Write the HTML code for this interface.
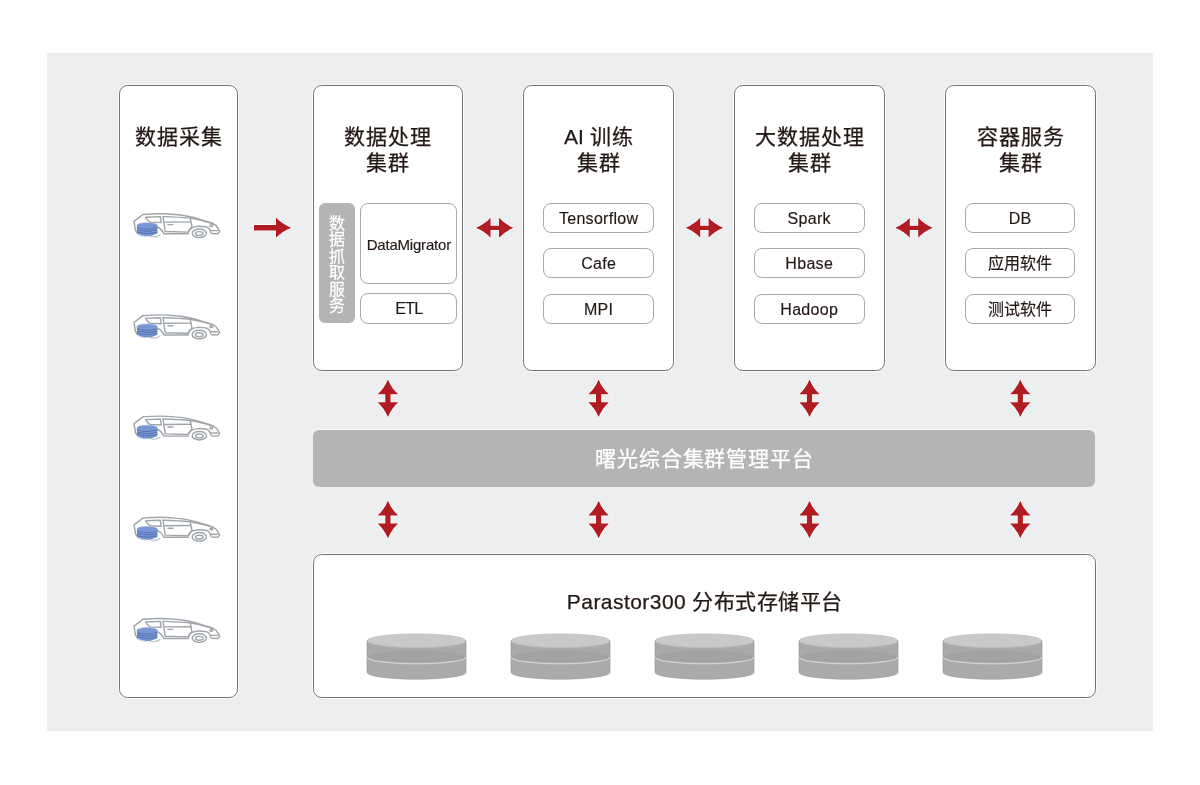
<!DOCTYPE html>
<html lang="zh-CN">
<head>
<meta charset="utf-8">
<style>
*{margin:0;padding:0;box-sizing:border-box}
html,body{width:1200px;height:785px;background:#fff;overflow:hidden}
body{position:relative;will-change:transform;font-family:"Liberation Sans",sans-serif;color:#231815}
.panel{position:absolute;left:47px;top:52.5px;width:1106px;height:678.5px;background:#edeef0}
.box{position:absolute;background:#fff;border:1.4px solid #777171;border-radius:8.5px;box-shadow:0 0 0 1px rgba(255,255,255,.75)}
.title{position:absolute;left:0;right:0;text-align:center;font-size:21px;line-height:26px;letter-spacing:1px;padding-left:1px;-webkit-text-stroke:0.25px #231815}
.item{position:absolute;background:#fff;border:1.4px solid #aaa8a8;border-radius:8px;text-align:center;font-size:16px;line-height:27px;padding-top:1px;letter-spacing:0.3px;-webkit-text-stroke:0.15px #231815}
.side{position:absolute;left:318.5px;top:202.7px;width:36.6px;height:120.5px;background:#b4b4b6;border-radius:6px;color:#fff;font-size:16px;line-height:16.5px;text-align:center;padding-top:13.3px;-webkit-text-stroke:0.25px #fff}
.bar{position:absolute;left:313px;top:430px;width:782px;height:56.5px;background:#b4b4b6;border-radius:6px;color:#fff;font-size:21px;letter-spacing:0.85px;padding-left:0.85px;-webkit-text-stroke:0.25px #fff;text-align:center;line-height:57.5px;box-shadow:0 -1px 0 0 rgba(255,255,255,.7)}
svg{position:absolute;overflow:visible}
</style>
</head>
<body>
<div class="panel"></div>

<!-- column 1 -->
<div class="box" style="left:118.5px;top:85px;width:119.5px;height:613px">
  <div class="title" style="top:37.6px">数据采集</div>
</div>

<!-- column 2 -->
<div class="box" style="left:312.6px;top:85px;width:150.4px;height:285.5px">
  <div class="title" style="top:37.6px">数据处理<br>集群</div>
</div>
<div class="side">数<br>据<br>抓<br>取<br>服<br>务</div>
<div class="item" style="left:360.3px;top:202.7px;width:97px;height:81px;line-height:79px;font-size:15px;letter-spacing:-0.2px">DataMigrator</div>
<div class="item" style="left:360.3px;top:293px;width:97px;height:30.5px;letter-spacing:-0.7px">ETL</div>

<!-- column 3 -->
<div class="box" style="left:523.3px;top:85px;width:150.5px;height:285.5px">
  <div class="title" style="top:37.6px"><span style="letter-spacing:0.2px">AI </span>训练<br>集群</div>
</div>
<div class="item" style="left:543.3px;top:203.3px;width:110.7px;height:30px">Tensorflow</div>
<div class="item" style="left:543.3px;top:248.3px;width:110.7px;height:30px">Cafe</div>
<div class="item" style="left:543.3px;top:293.5px;width:110.7px;height:30px">MPI</div>

<!-- column 4 -->
<div class="box" style="left:734.05px;top:85px;width:150.65px;height:285.5px">
  <div class="title" style="top:37.6px">大数据处理<br>集群</div>
</div>
<div class="item" style="left:753.9px;top:203.3px;width:110.7px;height:30px">Spark</div>
<div class="item" style="left:753.9px;top:248.3px;width:110.7px;height:30px">Hbase</div>
<div class="item" style="left:753.9px;top:293.5px;width:110.7px;height:30px">Hadoop</div>

<!-- column 5 -->
<div class="box" style="left:945.1px;top:85px;width:150.5px;height:285.5px">
  <div class="title" style="top:37.6px">容器服务<br>集群</div>
</div>
<div class="item" style="left:964.8px;top:203.3px;width:110.7px;height:30px">DB</div>
<div class="item" style="left:964.8px;top:248.3px;width:110.7px;height:30px;letter-spacing:0">应用软件</div>
<div class="item" style="left:964.8px;top:293.5px;width:110.7px;height:30px;letter-spacing:0">测试软件</div>

<!-- platform bar -->
<div class="bar">曙光综合集群管理平台</div>

<!-- storage -->
<div class="box" style="left:312.5px;top:553.5px;width:783.5px;height:144.5px">
  <div class="title" style="top:34.5px;font-size:21px;letter-spacing:0.45px">Parastor300 分布式存储平台</div>
</div>

<svg style="position:absolute;left:0;top:0" width="1200" height="785">
<path d="M254,224.9 L276,224.9 L276,217.6 Q282,224.2 291.2,227.7 Q282,231.3 276,237.8 L276,230.5 L254,230.5 Z" fill="#b01c22" stroke="#fff" stroke-width="1.4" paint-order="stroke" stroke-linejoin="round"/>
<path transform="translate(494.75 227.85)" d="M-18.75,0 Q-10,-3.6 -4.2,-10 L-4.2,-2.2 L4.2,-2.2 L4.2,-10 Q10,-3.6 18.75,0 Q10,3.6 4.2,10 L4.2,2.2 L-4.2,2.2 L-4.2,10 Q-10,3.6 -18.75,0 Z" fill="#b01c22" stroke="#fff" stroke-width="1.4" paint-order="stroke" stroke-linejoin="round"/>
<path transform="translate(704.4 227.85)" d="M-18.75,0 Q-10,-3.6 -4.2,-10 L-4.2,-2.2 L4.2,-2.2 L4.2,-10 Q10,-3.6 18.75,0 Q10,3.6 4.2,10 L4.2,2.2 L-4.2,2.2 L-4.2,10 Q-10,3.6 -18.75,0 Z" fill="#b01c22" stroke="#fff" stroke-width="1.4" paint-order="stroke" stroke-linejoin="round"/>
<path transform="translate(914 227.85)" d="M-18.75,0 Q-10,-3.6 -4.2,-10 L-4.2,-2.2 L4.2,-2.2 L4.2,-10 Q10,-3.6 18.75,0 Q10,3.6 4.2,10 L4.2,2.2 L-4.2,2.2 L-4.2,10 Q-10,3.6 -18.75,0 Z" fill="#b01c22" stroke="#fff" stroke-width="1.4" paint-order="stroke" stroke-linejoin="round"/>
<path transform="translate(387.9 398.25)" d="M0,-18.85 Q3.6,-10 10.3,-4.05 L2.6,-4.05 L2.6,3.95 L10.3,3.95 Q3.6,10 0,18.85 Q-3.6,10 -10.3,3.95 L-2.6,3.95 L-2.6,-4.05 L-10.3,-4.05 Q-3.6,-10 0,-18.85 Z" fill="#b01c22" stroke="#fff" stroke-width="1.4" paint-order="stroke" stroke-linejoin="round"/>
<path transform="translate(387.9 519.5)" d="M0,-18.85 Q3.6,-10 10.3,-4.05 L2.6,-4.05 L2.6,3.95 L10.3,3.95 Q3.6,10 0,18.85 Q-3.6,10 -10.3,3.95 L-2.6,3.95 L-2.6,-4.05 L-10.3,-4.05 Q-3.6,-10 0,-18.85 Z" fill="#b01c22" stroke="#fff" stroke-width="1.4" paint-order="stroke" stroke-linejoin="round"/>
<path transform="translate(598.6 398.25)" d="M0,-18.85 Q3.6,-10 10.3,-4.05 L2.6,-4.05 L2.6,3.95 L10.3,3.95 Q3.6,10 0,18.85 Q-3.6,10 -10.3,3.95 L-2.6,3.95 L-2.6,-4.05 L-10.3,-4.05 Q-3.6,-10 0,-18.85 Z" fill="#b01c22" stroke="#fff" stroke-width="1.4" paint-order="stroke" stroke-linejoin="round"/>
<path transform="translate(598.6 519.5)" d="M0,-18.85 Q3.6,-10 10.3,-4.05 L2.6,-4.05 L2.6,3.95 L10.3,3.95 Q3.6,10 0,18.85 Q-3.6,10 -10.3,3.95 L-2.6,3.95 L-2.6,-4.05 L-10.3,-4.05 Q-3.6,-10 0,-18.85 Z" fill="#b01c22" stroke="#fff" stroke-width="1.4" paint-order="stroke" stroke-linejoin="round"/>
<path transform="translate(809.5 398.25)" d="M0,-18.85 Q3.6,-10 10.3,-4.05 L2.6,-4.05 L2.6,3.95 L10.3,3.95 Q3.6,10 0,18.85 Q-3.6,10 -10.3,3.95 L-2.6,3.95 L-2.6,-4.05 L-10.3,-4.05 Q-3.6,-10 0,-18.85 Z" fill="#b01c22" stroke="#fff" stroke-width="1.4" paint-order="stroke" stroke-linejoin="round"/>
<path transform="translate(809.5 519.5)" d="M0,-18.85 Q3.6,-10 10.3,-4.05 L2.6,-4.05 L2.6,3.95 L10.3,3.95 Q3.6,10 0,18.85 Q-3.6,10 -10.3,3.95 L-2.6,3.95 L-2.6,-4.05 L-10.3,-4.05 Q-3.6,-10 0,-18.85 Z" fill="#b01c22" stroke="#fff" stroke-width="1.4" paint-order="stroke" stroke-linejoin="round"/>
<path transform="translate(1020.3 398.25)" d="M0,-18.85 Q3.6,-10 10.3,-4.05 L2.6,-4.05 L2.6,3.95 L10.3,3.95 Q3.6,10 0,18.85 Q-3.6,10 -10.3,3.95 L-2.6,3.95 L-2.6,-4.05 L-10.3,-4.05 Q-3.6,-10 0,-18.85 Z" fill="#b01c22" stroke="#fff" stroke-width="1.4" paint-order="stroke" stroke-linejoin="round"/>
<path transform="translate(1020.3 519.5)" d="M0,-18.85 Q3.6,-10 10.3,-4.05 L2.6,-4.05 L2.6,3.95 L10.3,3.95 Q3.6,10 0,18.85 Q-3.6,10 -10.3,3.95 L-2.6,3.95 L-2.6,-4.05 L-10.3,-4.05 Q-3.6,-10 0,-18.85 Z" fill="#b01c22" stroke="#fff" stroke-width="1.4" paint-order="stroke" stroke-linejoin="round"/>
<g transform="translate(130 208.3)">
 <g fill="none" stroke="#a0a5aa" stroke-width="1.45" stroke-linejoin="round" stroke-linecap="round">
  <path d="M12.9,6.2 Q30,4.6 45,6.2 Q60,7.4 71.8,11.6 Q80,14 82.9,15.2 Q87,17 88.6,20.8 L89.6,23.2 L87.8,25.4 L81.6,25.2"/>
  <path d="M12.9,6.2 L4,13 L5.5,22 L7.2,24.5"/>
  <path d="M15.6,8.9 L30.3,8.3 L31.2,14.3 L20.1,13.8 Q17,12 15.6,8.9 Z"/>
  <path d="M33,8.3 L35.2,23.2 L58.4,23.8"/>
  <path d="M34.8,13.8 L60.6,13.6"/>
  <path d="M33,8.3 Q50,8.8 60.2,9.8 Q70,11.5 76.2,13.4 Q80,14.5 82.9,15.2"/>
  <path d="M60.2,9.8 L62,18.7 Q60,20 58.4,23.6"/>
  <path d="M58.4,23.6 Q60,18.5 68,17.9 Q77,17.8 78.9,20 Q80.5,22 80.7,24.1"/>
  <path d="M80.7,22.3 L87.4,22.3"/>
  <path d="M27.7,18.7 Q31.5,20.5 33.9,25.4 L45,25.4 L58.4,25.4"/>
  <ellipse cx="69.3" cy="25" rx="7.1" ry="4.3"/>
  <ellipse cx="69.3" cy="25.2" rx="3.8" ry="1.9"/>
  <ellipse cx="81.3" cy="17.2" rx="1.4" ry="0.9"/>
  <path d="M37.9,16.3 L42.8,16.3"/>
  <path d="M19,27.5 Q25,30 30,26.5" stroke="#c5c8cc"/>
 </g>
 <g>
  <path d="M6.9,17.2 L6.9,25.2 Q17.15,30.4 27.4,25.2 L27.4,17.2 Z" fill="#6384c3"/>
  <ellipse cx="17.15" cy="17.2" rx="10.25" ry="2.7" fill="#7997d4" stroke="#90abe0" stroke-width="0.5"/>
  <path d="M7.1,19.6 Q17.15,22.6 27.2,19.6" stroke="#4e6cad" stroke-width="0.7" fill="none"/>
  <path d="M7.1,20.5 Q17.15,23.5 27.2,20.5" stroke="#8eaade" stroke-width="0.6" fill="none"/>
  <path d="M7.1,21.8 Q17.15,24.8 27.2,21.8" stroke="#4e6cad" stroke-width="0.7" fill="none"/>
  <path d="M7.1,22.7 Q17.15,25.7 27.2,22.7" stroke="#8eaade" stroke-width="0.6" fill="none"/>
  <path d="M7.1,24 Q17.15,27 27.2,24" stroke="#4e6cad" stroke-width="0.7" fill="none"/>
  <path d="M7.1,24.9 Q17.15,27.9 27.2,24.9" stroke="#8eaade" stroke-width="0.6" fill="none"/>
  <path d="M7.5,26.2 Q12,28.3 17,28.4" stroke="#a8c2f0" stroke-width="0.7" fill="none"/>
 </g>
</g>
<g transform="translate(130 309.5)">
 <g fill="none" stroke="#a0a5aa" stroke-width="1.45" stroke-linejoin="round" stroke-linecap="round">
  <path d="M12.9,6.2 Q30,4.6 45,6.2 Q60,7.4 71.8,11.6 Q80,14 82.9,15.2 Q87,17 88.6,20.8 L89.6,23.2 L87.8,25.4 L81.6,25.2"/>
  <path d="M12.9,6.2 L4,13 L5.5,22 L7.2,24.5"/>
  <path d="M15.6,8.9 L30.3,8.3 L31.2,14.3 L20.1,13.8 Q17,12 15.6,8.9 Z"/>
  <path d="M33,8.3 L35.2,23.2 L58.4,23.8"/>
  <path d="M34.8,13.8 L60.6,13.6"/>
  <path d="M33,8.3 Q50,8.8 60.2,9.8 Q70,11.5 76.2,13.4 Q80,14.5 82.9,15.2"/>
  <path d="M60.2,9.8 L62,18.7 Q60,20 58.4,23.6"/>
  <path d="M58.4,23.6 Q60,18.5 68,17.9 Q77,17.8 78.9,20 Q80.5,22 80.7,24.1"/>
  <path d="M80.7,22.3 L87.4,22.3"/>
  <path d="M27.7,18.7 Q31.5,20.5 33.9,25.4 L45,25.4 L58.4,25.4"/>
  <ellipse cx="69.3" cy="25" rx="7.1" ry="4.3"/>
  <ellipse cx="69.3" cy="25.2" rx="3.8" ry="1.9"/>
  <ellipse cx="81.3" cy="17.2" rx="1.4" ry="0.9"/>
  <path d="M37.9,16.3 L42.8,16.3"/>
  <path d="M19,27.5 Q25,30 30,26.5" stroke="#c5c8cc"/>
 </g>
 <g>
  <path d="M6.9,17.2 L6.9,25.2 Q17.15,30.4 27.4,25.2 L27.4,17.2 Z" fill="#6384c3"/>
  <ellipse cx="17.15" cy="17.2" rx="10.25" ry="2.7" fill="#7997d4" stroke="#90abe0" stroke-width="0.5"/>
  <path d="M7.1,19.6 Q17.15,22.6 27.2,19.6" stroke="#4e6cad" stroke-width="0.7" fill="none"/>
  <path d="M7.1,20.5 Q17.15,23.5 27.2,20.5" stroke="#8eaade" stroke-width="0.6" fill="none"/>
  <path d="M7.1,21.8 Q17.15,24.8 27.2,21.8" stroke="#4e6cad" stroke-width="0.7" fill="none"/>
  <path d="M7.1,22.7 Q17.15,25.7 27.2,22.7" stroke="#8eaade" stroke-width="0.6" fill="none"/>
  <path d="M7.1,24 Q17.15,27 27.2,24" stroke="#4e6cad" stroke-width="0.7" fill="none"/>
  <path d="M7.1,24.9 Q17.15,27.9 27.2,24.9" stroke="#8eaade" stroke-width="0.6" fill="none"/>
  <path d="M7.5,26.2 Q12,28.3 17,28.4" stroke="#a8c2f0" stroke-width="0.7" fill="none"/>
 </g>
</g>
<g transform="translate(130 410.7)">
 <g fill="none" stroke="#a0a5aa" stroke-width="1.45" stroke-linejoin="round" stroke-linecap="round">
  <path d="M12.9,6.2 Q30,4.6 45,6.2 Q60,7.4 71.8,11.6 Q80,14 82.9,15.2 Q87,17 88.6,20.8 L89.6,23.2 L87.8,25.4 L81.6,25.2"/>
  <path d="M12.9,6.2 L4,13 L5.5,22 L7.2,24.5"/>
  <path d="M15.6,8.9 L30.3,8.3 L31.2,14.3 L20.1,13.8 Q17,12 15.6,8.9 Z"/>
  <path d="M33,8.3 L35.2,23.2 L58.4,23.8"/>
  <path d="M34.8,13.8 L60.6,13.6"/>
  <path d="M33,8.3 Q50,8.8 60.2,9.8 Q70,11.5 76.2,13.4 Q80,14.5 82.9,15.2"/>
  <path d="M60.2,9.8 L62,18.7 Q60,20 58.4,23.6"/>
  <path d="M58.4,23.6 Q60,18.5 68,17.9 Q77,17.8 78.9,20 Q80.5,22 80.7,24.1"/>
  <path d="M80.7,22.3 L87.4,22.3"/>
  <path d="M27.7,18.7 Q31.5,20.5 33.9,25.4 L45,25.4 L58.4,25.4"/>
  <ellipse cx="69.3" cy="25" rx="7.1" ry="4.3"/>
  <ellipse cx="69.3" cy="25.2" rx="3.8" ry="1.9"/>
  <ellipse cx="81.3" cy="17.2" rx="1.4" ry="0.9"/>
  <path d="M37.9,16.3 L42.8,16.3"/>
  <path d="M19,27.5 Q25,30 30,26.5" stroke="#c5c8cc"/>
 </g>
 <g>
  <path d="M6.9,17.2 L6.9,25.2 Q17.15,30.4 27.4,25.2 L27.4,17.2 Z" fill="#6384c3"/>
  <ellipse cx="17.15" cy="17.2" rx="10.25" ry="2.7" fill="#7997d4" stroke="#90abe0" stroke-width="0.5"/>
  <path d="M7.1,19.6 Q17.15,22.6 27.2,19.6" stroke="#4e6cad" stroke-width="0.7" fill="none"/>
  <path d="M7.1,20.5 Q17.15,23.5 27.2,20.5" stroke="#8eaade" stroke-width="0.6" fill="none"/>
  <path d="M7.1,21.8 Q17.15,24.8 27.2,21.8" stroke="#4e6cad" stroke-width="0.7" fill="none"/>
  <path d="M7.1,22.7 Q17.15,25.7 27.2,22.7" stroke="#8eaade" stroke-width="0.6" fill="none"/>
  <path d="M7.1,24 Q17.15,27 27.2,24" stroke="#4e6cad" stroke-width="0.7" fill="none"/>
  <path d="M7.1,24.9 Q17.15,27.9 27.2,24.9" stroke="#8eaade" stroke-width="0.6" fill="none"/>
  <path d="M7.5,26.2 Q12,28.3 17,28.4" stroke="#a8c2f0" stroke-width="0.7" fill="none"/>
 </g>
</g>
<g transform="translate(130 511.9)">
 <g fill="none" stroke="#a0a5aa" stroke-width="1.45" stroke-linejoin="round" stroke-linecap="round">
  <path d="M12.9,6.2 Q30,4.6 45,6.2 Q60,7.4 71.8,11.6 Q80,14 82.9,15.2 Q87,17 88.6,20.8 L89.6,23.2 L87.8,25.4 L81.6,25.2"/>
  <path d="M12.9,6.2 L4,13 L5.5,22 L7.2,24.5"/>
  <path d="M15.6,8.9 L30.3,8.3 L31.2,14.3 L20.1,13.8 Q17,12 15.6,8.9 Z"/>
  <path d="M33,8.3 L35.2,23.2 L58.4,23.8"/>
  <path d="M34.8,13.8 L60.6,13.6"/>
  <path d="M33,8.3 Q50,8.8 60.2,9.8 Q70,11.5 76.2,13.4 Q80,14.5 82.9,15.2"/>
  <path d="M60.2,9.8 L62,18.7 Q60,20 58.4,23.6"/>
  <path d="M58.4,23.6 Q60,18.5 68,17.9 Q77,17.8 78.9,20 Q80.5,22 80.7,24.1"/>
  <path d="M80.7,22.3 L87.4,22.3"/>
  <path d="M27.7,18.7 Q31.5,20.5 33.9,25.4 L45,25.4 L58.4,25.4"/>
  <ellipse cx="69.3" cy="25" rx="7.1" ry="4.3"/>
  <ellipse cx="69.3" cy="25.2" rx="3.8" ry="1.9"/>
  <ellipse cx="81.3" cy="17.2" rx="1.4" ry="0.9"/>
  <path d="M37.9,16.3 L42.8,16.3"/>
  <path d="M19,27.5 Q25,30 30,26.5" stroke="#c5c8cc"/>
 </g>
 <g>
  <path d="M6.9,17.2 L6.9,25.2 Q17.15,30.4 27.4,25.2 L27.4,17.2 Z" fill="#6384c3"/>
  <ellipse cx="17.15" cy="17.2" rx="10.25" ry="2.7" fill="#7997d4" stroke="#90abe0" stroke-width="0.5"/>
  <path d="M7.1,19.6 Q17.15,22.6 27.2,19.6" stroke="#4e6cad" stroke-width="0.7" fill="none"/>
  <path d="M7.1,20.5 Q17.15,23.5 27.2,20.5" stroke="#8eaade" stroke-width="0.6" fill="none"/>
  <path d="M7.1,21.8 Q17.15,24.8 27.2,21.8" stroke="#4e6cad" stroke-width="0.7" fill="none"/>
  <path d="M7.1,22.7 Q17.15,25.7 27.2,22.7" stroke="#8eaade" stroke-width="0.6" fill="none"/>
  <path d="M7.1,24 Q17.15,27 27.2,24" stroke="#4e6cad" stroke-width="0.7" fill="none"/>
  <path d="M7.1,24.9 Q17.15,27.9 27.2,24.9" stroke="#8eaade" stroke-width="0.6" fill="none"/>
  <path d="M7.5,26.2 Q12,28.3 17,28.4" stroke="#a8c2f0" stroke-width="0.7" fill="none"/>
 </g>
</g>
<g transform="translate(130 613.1)">
 <g fill="none" stroke="#a0a5aa" stroke-width="1.45" stroke-linejoin="round" stroke-linecap="round">
  <path d="M12.9,6.2 Q30,4.6 45,6.2 Q60,7.4 71.8,11.6 Q80,14 82.9,15.2 Q87,17 88.6,20.8 L89.6,23.2 L87.8,25.4 L81.6,25.2"/>
  <path d="M12.9,6.2 L4,13 L5.5,22 L7.2,24.5"/>
  <path d="M15.6,8.9 L30.3,8.3 L31.2,14.3 L20.1,13.8 Q17,12 15.6,8.9 Z"/>
  <path d="M33,8.3 L35.2,23.2 L58.4,23.8"/>
  <path d="M34.8,13.8 L60.6,13.6"/>
  <path d="M33,8.3 Q50,8.8 60.2,9.8 Q70,11.5 76.2,13.4 Q80,14.5 82.9,15.2"/>
  <path d="M60.2,9.8 L62,18.7 Q60,20 58.4,23.6"/>
  <path d="M58.4,23.6 Q60,18.5 68,17.9 Q77,17.8 78.9,20 Q80.5,22 80.7,24.1"/>
  <path d="M80.7,22.3 L87.4,22.3"/>
  <path d="M27.7,18.7 Q31.5,20.5 33.9,25.4 L45,25.4 L58.4,25.4"/>
  <ellipse cx="69.3" cy="25" rx="7.1" ry="4.3"/>
  <ellipse cx="69.3" cy="25.2" rx="3.8" ry="1.9"/>
  <ellipse cx="81.3" cy="17.2" rx="1.4" ry="0.9"/>
  <path d="M37.9,16.3 L42.8,16.3"/>
  <path d="M19,27.5 Q25,30 30,26.5" stroke="#c5c8cc"/>
 </g>
 <g>
  <path d="M6.9,17.2 L6.9,25.2 Q17.15,30.4 27.4,25.2 L27.4,17.2 Z" fill="#6384c3"/>
  <ellipse cx="17.15" cy="17.2" rx="10.25" ry="2.7" fill="#7997d4" stroke="#90abe0" stroke-width="0.5"/>
  <path d="M7.1,19.6 Q17.15,22.6 27.2,19.6" stroke="#4e6cad" stroke-width="0.7" fill="none"/>
  <path d="M7.1,20.5 Q17.15,23.5 27.2,20.5" stroke="#8eaade" stroke-width="0.6" fill="none"/>
  <path d="M7.1,21.8 Q17.15,24.8 27.2,21.8" stroke="#4e6cad" stroke-width="0.7" fill="none"/>
  <path d="M7.1,22.7 Q17.15,25.7 27.2,22.7" stroke="#8eaade" stroke-width="0.6" fill="none"/>
  <path d="M7.1,24 Q17.15,27 27.2,24" stroke="#4e6cad" stroke-width="0.7" fill="none"/>
  <path d="M7.1,24.9 Q17.15,27.9 27.2,24.9" stroke="#8eaade" stroke-width="0.6" fill="none"/>
  <path d="M7.5,26.2 Q12,28.3 17,28.4" stroke="#a8c2f0" stroke-width="0.7" fill="none"/>
 </g>
</g>
<g transform="translate(367 633.8)">
  <path d="M0,7 L0,38.5 A49.5,6.9 0 0 0 99,38.5 L99,7 Z" fill="#aaaaaa" stroke="#9d9d9d" stroke-width="0.7"/>
  <ellipse cx="49.5" cy="23.4" rx="49" ry="6.6" fill="#a2a2a2"/>
  <path d="M0.3,23.4 A49.2,6.6 0 0 0 98.7,23.4" fill="none" stroke="#cfcfcf" stroke-width="1.5"/>
  <ellipse cx="49.5" cy="7" rx="49.5" ry="6.9" fill="#c9c9c9" stroke="#b8b8b8" stroke-width="0.7"/>
</g>
<g transform="translate(511 633.8)">
  <path d="M0,7 L0,38.5 A49.5,6.9 0 0 0 99,38.5 L99,7 Z" fill="#aaaaaa" stroke="#9d9d9d" stroke-width="0.7"/>
  <ellipse cx="49.5" cy="23.4" rx="49" ry="6.6" fill="#a2a2a2"/>
  <path d="M0.3,23.4 A49.2,6.6 0 0 0 98.7,23.4" fill="none" stroke="#cfcfcf" stroke-width="1.5"/>
  <ellipse cx="49.5" cy="7" rx="49.5" ry="6.9" fill="#c9c9c9" stroke="#b8b8b8" stroke-width="0.7"/>
</g>
<g transform="translate(655 633.8)">
  <path d="M0,7 L0,38.5 A49.5,6.9 0 0 0 99,38.5 L99,7 Z" fill="#aaaaaa" stroke="#9d9d9d" stroke-width="0.7"/>
  <ellipse cx="49.5" cy="23.4" rx="49" ry="6.6" fill="#a2a2a2"/>
  <path d="M0.3,23.4 A49.2,6.6 0 0 0 98.7,23.4" fill="none" stroke="#cfcfcf" stroke-width="1.5"/>
  <ellipse cx="49.5" cy="7" rx="49.5" ry="6.9" fill="#c9c9c9" stroke="#b8b8b8" stroke-width="0.7"/>
</g>
<g transform="translate(799 633.8)">
  <path d="M0,7 L0,38.5 A49.5,6.9 0 0 0 99,38.5 L99,7 Z" fill="#aaaaaa" stroke="#9d9d9d" stroke-width="0.7"/>
  <ellipse cx="49.5" cy="23.4" rx="49" ry="6.6" fill="#a2a2a2"/>
  <path d="M0.3,23.4 A49.2,6.6 0 0 0 98.7,23.4" fill="none" stroke="#cfcfcf" stroke-width="1.5"/>
  <ellipse cx="49.5" cy="7" rx="49.5" ry="6.9" fill="#c9c9c9" stroke="#b8b8b8" stroke-width="0.7"/>
</g>
<g transform="translate(943 633.8)">
  <path d="M0,7 L0,38.5 A49.5,6.9 0 0 0 99,38.5 L99,7 Z" fill="#aaaaaa" stroke="#9d9d9d" stroke-width="0.7"/>
  <ellipse cx="49.5" cy="23.4" rx="49" ry="6.6" fill="#a2a2a2"/>
  <path d="M0.3,23.4 A49.2,6.6 0 0 0 98.7,23.4" fill="none" stroke="#cfcfcf" stroke-width="1.5"/>
  <ellipse cx="49.5" cy="7" rx="49.5" ry="6.9" fill="#c9c9c9" stroke="#b8b8b8" stroke-width="0.7"/>
</g>
</svg>
</body>
</html>
